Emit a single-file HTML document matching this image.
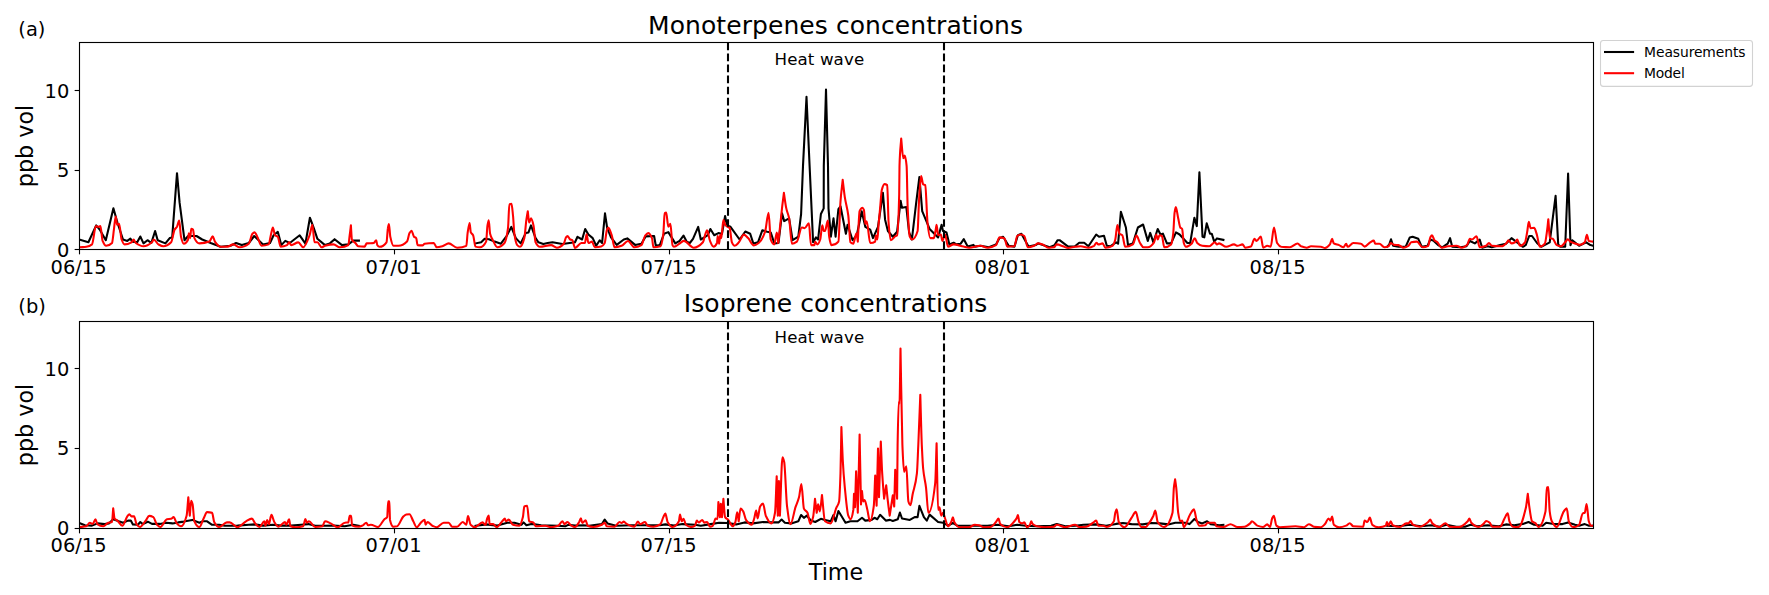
<!DOCTYPE html>
<html lang="en"><head><meta charset="utf-8"><title>Monoterpenes and Isoprene concentrations</title>
<style>
html,body{margin:0;padding:0;background:#fff;}
svg{display:block;}
text{font-family:"DejaVu Sans","Liberation Sans",sans-serif;fill:#000;}
</style></head><body>
<svg width="1769" height="595" viewBox="0 0 1769 595">
<rect width="1769" height="595" fill="#fff"/>
<defs>
<clipPath id="c1"><rect x="79.5" y="42.5" width="1514.0" height="207.0"/></clipPath>
<clipPath id="c2"><rect x="79.5" y="321.5" width="1514.0" height="207.0"/></clipPath>
</defs>
<polyline points="79.9,239.8 88.4,242.3 96.2,225.4 99.7,229.6 105.8,240.2 113.4,208.2 117.4,222.5 123.0,239.5 127.3,240.9 130.4,238.6 132.2,241.6 137.2,242.3 140.3,236.5 143.5,243.4 147.5,240.2 151.3,243.0 155.1,231.1 157.7,240.2 165.4,243.4 169.7,238.1 172.2,237.4 177.0,173.2 179.6,202.7 184.5,240.2 188.1,236.0 196.5,236.0 202.2,239.5 210.7,243.0 220.6,246.8 230.5,245.8 236.1,243.0 241.8,245.1 248.8,243.0 254.2,236.0 263.0,244.4 270.0,243.0 273.6,235.2 277.8,231.8 281.3,245.1 285.3,240.9 289.8,243.0 299.7,235.3 305.4,243.7 309.9,217.7 313.8,228.2 317.4,238.8 325.0,245.1 329.9,243.4 334.6,239.2 342.0,245.1 348.3,244.4 353.3,240.6 358.9,240.6" fill="none" stroke="#000" stroke-width="2.08" stroke-linejoin="round" stroke-linecap="square" clip-path="url(#c1)"/>
<polyline points="475.5,243.4 481.2,242.3 484.7,238.8 488.9,239.2 494.6,241.6 500.9,243.7 506.6,236.0 511.3,226.9 515.8,238.1 520.7,243.4 525.7,233.1 528.5,232.4 531.0,225.4 535.6,238.1 538.4,242.3 543.3,244.0 547.6,243.0 552.5,242.3 562.4,244.0 575.0,242.3 577.5,236.8 582.1,239.5 585.2,229.0 588.4,234.5 592.7,238.1 596.2,245.8 599.7,240.3 602.1,243.0 605.0,213.4 607.2,228.2 611.0,237.4 616.7,244.9 623.8,239.5 627.3,238.4 635.1,244.9 641.4,243.7 645.7,236.4 654.1,236.0 655.8,245.8 659.8,245.1 664.0,233.8 668.3,232.1 675.3,243.4 679.6,240.9 683.5,235.6 686.6,241.6 689.8,243.0 693.0,238.8 698.2,226.9 700.8,239.5 704.3,237.4 707.8,235.2 710.4,229.0 714.2,235.2 718.4,233.1 722.0,233.8 725.1,216.0 726.9,225.4 730.5,226.8 739.6,239.5 745.3,231.5 750.2,233.8 753.3,243.4 758.0,242.3 762.3,230.3 767.2,231.7 770.7,232.4 774.3,243.4 778.5,243.0 782.0,213.4 784.2,221.1 789.1,218.3 792.6,240.2 798.3,236.7 801.1,214.0 803.0,165.9 806.5,96.9 809.6,165.9 813.1,242.3 816.0,237.4 818.1,239.5 820.9,214.0 823.7,208.4 823.8,165.9 826.0,89.6 828.0,165.9 828.5,208.4 830.9,236.7 833.5,218.4 835.6,236.7 838.4,209.1 840.5,206.3 845.9,233.8 847.6,224.7 852.6,240.2 856.8,235.2 861.7,211.3 865.3,226.8 870.2,229.6 873.0,238.1 878.0,226.8 882.9,192.9 885.1,219.7 887.9,231.0 892.8,236.7 897.1,231.7 900.6,200.7 902.0,207.7 906.3,207.0 909.1,232.4 911.9,239.5 916.2,202.7 919.4,177.0 922.2,211.2 929.6,228.9 938.1,237.4 941.6,224.7 943.0,231.0 946.5,232.4 949.4,244.4 953.6,242.7 956.4,244.4 960.7,243.7 963.8,239.2 967.7,246.6 973.4,244.9 974.8,246.6 980.5,245.8 988.9,247.3 996.0,244.4 999.5,238.1 1003.1,236.7 1008.7,245.8 1014.4,246.6 1017.9,235.2 1021.4,233.8 1028.5,246.6 1035.6,245.1 1038.4,243.4 1049.7,247.3 1054.6,245.1 1057.5,240.2 1059.6,240.2 1068.1,246.6 1075.0,246.3 1079.2,242.7 1084.2,242.7 1088.4,246.3 1096.2,234.5 1099.0,236.7 1104.0,235.7 1106.8,245.8 1110.3,246.3 1116.0,242.3 1118.1,243.7 1120.9,211.7 1125.9,227.5 1128.0,245.1 1132.9,243.4 1137.9,227.5 1143.1,224.5 1147.8,240.9 1150.2,232.9 1153.4,242.3 1157.7,229.0 1160.5,234.5 1162.9,233.6 1166.9,243.4 1171.1,243.4 1176.0,232.4 1179.6,234.5 1187.4,243.0 1190.2,243.0 1194.4,217.7 1196.8,226.1 1199.4,172.2 1202.5,236.7 1204.3,237.4 1206.7,223.3 1210.0,233.8 1211.8,233.8 1214.2,241.6 1217.0,238.4 1223.4,239.9" fill="none" stroke="#000" stroke-width="2.08" stroke-linejoin="round" stroke-linecap="square" clip-path="url(#c1)"/>
<polyline points="1387.2,246.6 1389.3,244.4 1391.0,239.3 1393.1,245.8 1398.5,246.8 1405.6,246.8 1409.8,237.4 1412.6,236.7 1418.3,238.8 1421.8,246.8 1427.5,245.8 1430.3,239.5 1433.8,240.9 1438.1,245.1 1442.3,247.3 1447.7,243.7 1450.1,238.2 1452.2,246.8 1460.7,247.3 1466.3,246.3 1469.9,241.0 1474.8,243.4 1479.7,239.6 1482.2,247.7 1487.5,246.3 1491.8,247.3 1500.2,245.1 1505.9,243.7 1511.5,238.2 1515.1,240.9 1522.9,246.8 1525.7,245.1 1529.2,236.0 1532.0,236.0 1537.0,243.0 1541.2,246.8 1549.7,242.3 1555.6,195.8 1558.2,244.4 1560.3,246.8 1565.2,246.8 1568.1,173.6 1570.5,245.1 1572.3,240.3 1579.1,245.8 1586.2,242.3 1590.4,245.1 1593.0,245.8" fill="none" stroke="#000" stroke-width="2.08" stroke-linejoin="round" stroke-linecap="square" clip-path="url(#c1)"/>
<path d="M79.9,247.3C82.0,247.1 84.2,247.1 86.3,246.8C88.2,246.5 90.1,245.9 92.0,244.4C93.3,243.3 94.6,226.1 95.9,226.1C96.7,226.1 97.5,226.8 98.3,226.8C99.0,226.8 99.7,226.1 100.4,226.1C101.1,226.1 101.9,239.1 102.6,240.9C103.8,243.7 104.9,245.8 106.1,245.8C108.1,245.8 110.0,245.1 112.0,243.0C112.6,242.3 113.3,234.1 113.9,229.6C114.5,225.3 115.1,216.5 115.7,216.5C116.2,216.5 116.6,224.6 117.1,224.6C117.8,224.6 118.4,223.9 119.1,223.9C119.9,223.9 120.8,237.3 121.6,239.5C122.6,242.1 123.5,244.4 124.5,244.4C126.8,244.4 129.2,243.6 131.5,242.3C132.2,241.9 132.9,239.6 133.6,239.6C134.3,239.6 135.1,242.5 135.8,243.0C138.4,244.9 140.9,246.3 143.5,246.3C146.3,246.3 149.2,244.7 152.0,242.3C152.6,241.8 153.1,239.5 153.7,239.5C155.3,239.5 156.8,243.5 158.4,244.4C160.0,245.3 161.7,246.3 163.3,246.3C165.9,246.3 168.5,244.9 171.1,242.3C172.3,241.1 173.4,231.6 174.6,229.6C175.4,228.2 176.2,228.1 177.0,226.8C177.7,225.6 178.5,220.5 179.2,220.5C179.8,220.5 180.4,234.3 181.0,236.7C181.9,240.5 182.9,243.7 183.8,243.7C185.2,243.7 186.7,242.6 188.1,239.5C188.3,239.0 188.6,233.2 188.8,233.2C189.3,233.2 189.7,238.1 190.2,238.1C190.5,238.1 190.9,228.9 191.2,228.9C191.8,228.9 192.4,229.1 193.0,229.6C193.5,230.0 193.9,237.1 194.4,238.1C196.1,241.6 197.7,243.4 199.4,243.4C202.7,243.4 206.0,242.8 209.3,241.6C210.5,241.2 211.6,236.3 212.8,236.3C213.5,236.3 214.2,240.6 214.9,241.6C216.8,244.3 218.7,246.8 220.6,246.8C222.9,246.8 225.3,246.7 227.6,246.6C229.5,246.5 231.4,244.4 233.3,244.4C235.4,244.4 237.5,247.3 239.6,247.3C242.7,247.3 245.7,246.1 248.8,243.7C250.0,242.8 251.2,235.0 252.4,233.8C253.1,233.1 253.8,232.4 254.5,232.4C255.4,232.4 256.4,235.0 257.3,236.7C258.7,239.2 260.1,245.8 261.5,245.8C263.9,245.8 266.2,245.4 268.6,244.4C269.5,244.0 270.5,235.8 271.4,232.4C271.9,230.6 272.4,227.6 272.9,227.6C273.6,227.6 274.3,234.5 275.0,235.2C275.9,236.1 276.9,235.8 277.8,236.7C278.7,237.6 279.7,246.6 280.6,246.6C282.7,246.6 284.9,246.1 287.0,245.1C287.7,244.8 288.4,242.3 289.1,242.3C289.8,242.3 290.5,245.1 291.2,245.1C293.6,245.1 295.9,242.4 298.3,242.4C299.9,242.4 301.6,247.3 303.2,247.3C305.3,247.3 307.5,240.8 309.6,235.2C310.5,232.7 311.5,224.7 312.4,224.7C313.1,224.7 313.8,242.3 314.5,242.3C315.5,242.3 316.4,242.3 317.4,242.3C318.8,242.3 320.2,247.3 321.6,247.3C322.7,247.3 323.9,246.1 325.0,245.8C327.8,245.1 330.7,244.4 333.5,244.4C335.6,244.4 337.7,247.3 339.8,247.3C342.6,247.3 345.5,246.9 348.3,245.1C348.8,244.8 349.2,238.7 349.7,235.2C350.1,232.2 350.5,228.7 350.9,225.4C351.2,230.1 351.6,238.8 351.9,239.5C353.1,242.1 354.2,241.7 355.4,243.0C356.3,244.0 357.3,246.2 358.2,246.3C360.3,246.5 362.5,246.6 364.6,246.6C365.3,246.6 366.0,243.5 366.7,243.4C369.1,243.1 371.4,243.3 373.8,243.0C374.6,242.9 375.4,240.2 376.2,240.2C376.6,240.2 376.9,244.6 377.3,245.1C378.0,246.1 378.7,246.8 379.4,246.8C381.8,246.8 384.1,245.8 386.5,242.3C387.0,241.6 387.4,230.9 387.9,228.2C388.2,226.3 388.6,224.0 388.9,224.0C389.4,224.0 389.8,234.5 390.3,236.7C391.4,241.7 392.4,245.8 393.5,245.8C395.2,245.8 396.8,245.8 398.5,245.8C401.3,245.8 404.2,244.4 407.0,241.6C407.8,240.8 408.7,234.6 409.5,233.1C410.2,231.9 410.8,230.7 411.5,230.7C412.3,230.7 413.2,235.9 414.0,236.7C414.7,237.4 415.5,237.2 416.2,238.1C416.7,238.7 417.1,245.0 417.6,245.1C419.2,245.3 420.9,245.4 422.5,245.4C423.2,245.4 423.9,243.8 424.6,243.7C427.7,243.2 430.7,243.0 433.8,243.0C434.7,243.0 435.7,247.3 436.6,247.3C438.5,247.3 440.4,246.8 442.3,246.3C444.4,245.8 446.6,243.4 448.7,243.4C451.5,243.4 454.3,247.7 457.1,247.7C460.2,247.7 463.2,247.4 466.3,245.8C466.8,245.6 467.2,235.5 467.7,232.4C468.3,228.2 469.0,223.0 469.6,223.0C470.0,223.0 470.4,231.5 470.8,232.4C471.6,234.1 472.3,233.7 473.1,235.2C473.9,236.7 474.7,246.3 475.5,246.6C476.9,247.1 478.3,247.3 479.7,247.3C481.8,247.3 484.0,245.9 486.1,241.6C486.6,240.7 487.0,228.3 487.5,225.4C487.9,222.9 488.3,220.2 488.7,220.2C489.2,220.2 489.6,231.9 490.1,233.8C490.9,237.0 491.7,237.9 492.5,239.5C494.1,242.7 495.8,247.3 497.4,247.3C499.8,247.3 502.1,245.7 504.5,243.0C505.7,241.6 506.8,236.9 508.0,228.2C508.5,224.7 508.9,204.3 509.4,204.2C510.1,204.0 510.8,203.9 511.5,203.9C512.0,203.9 512.5,210.6 513.0,215.5C513.5,220.0 513.9,230.7 514.4,233.8C515.3,239.9 516.3,244.1 517.2,245.1C518.1,246.1 519.1,246.8 520.0,246.8C521.4,246.8 522.9,243.2 524.3,238.1C525.0,235.6 525.7,224.6 526.4,219.7C526.9,216.4 527.3,214.1 527.8,211.3C528.3,215.0 528.7,222.5 529.2,222.5C529.8,222.5 530.4,218.4 531.0,218.4C531.8,218.4 532.7,221.9 533.5,225.4C534.2,228.3 534.9,240.9 535.6,242.3C537.0,245.2 538.4,246.8 539.8,246.8C543.6,246.8 547.3,245.1 551.1,245.1C553.0,245.1 554.9,247.7 556.8,247.7C559.1,247.7 561.5,246.2 563.8,243.7C564.5,242.9 565.3,238.4 566.0,237.4C566.5,236.7 566.9,236.0 567.4,236.0C568.3,236.0 569.3,239.0 570.2,239.5C570.9,239.9 571.6,239.8 572.3,240.2C573.2,240.7 574.1,248.0 575.0,248.0C577.1,248.0 579.3,243.0 581.4,243.0C582.6,243.0 583.7,243.0 584.9,243.0C585.5,243.0 586.0,234.4 586.6,234.4C587.2,234.4 587.8,243.0 588.4,243.0C589.6,243.0 590.8,241.6 592.0,241.6C592.9,241.6 593.9,247.3 594.8,247.3C596.9,247.3 599.0,247.1 601.1,246.6C602.3,246.3 603.5,245.2 604.7,243.0C605.4,241.7 606.1,232.3 606.8,230.3C607.3,229.0 607.7,227.6 608.2,227.6C609.4,227.6 610.5,231.8 611.7,235.2C612.7,238.0 613.6,247.3 614.6,247.3C616.9,247.3 619.3,246.6 621.6,245.8C623.7,245.1 625.9,241.0 628.0,241.0C630.1,241.0 632.3,247.3 634.4,247.3C636.7,247.3 639.1,246.5 641.4,245.1C642.6,244.4 643.8,237.6 645.0,236.0C646.1,234.6 647.1,233.1 648.2,233.1C649.5,233.1 650.7,235.0 652.0,238.1C652.5,239.2 652.9,247.3 653.4,247.3C655.8,247.3 658.1,247.0 660.5,246.3C661.4,246.0 662.4,240.6 663.3,233.8C663.8,230.4 664.2,213.7 664.7,213.3C665.2,212.8 665.7,212.6 666.2,212.6C666.9,212.6 667.6,226.8 668.3,226.8C669.0,226.8 669.7,223.9 670.4,223.9C671.1,223.9 671.8,243.7 672.5,245.1C673.0,246.1 673.4,246.8 673.9,246.8C676.0,246.8 678.2,244.3 680.3,243.0C681.5,242.3 682.6,240.9 683.8,240.9C687.1,240.9 690.4,247.7 693.7,247.7C696.8,247.7 699.8,245.8 702.9,242.3C703.8,241.2 704.8,235.3 705.7,233.1C706.2,232.0 706.6,230.4 707.1,230.4C708.1,230.4 709.0,238.7 710.0,240.9C711.2,243.6 712.3,246.6 713.5,246.6C714.7,246.6 715.8,245.7 717.0,243.0C717.2,242.5 717.5,236.0 717.7,236.0C718.2,236.0 718.6,243.7 719.1,243.7C719.5,243.7 719.9,234.6 720.3,234.6C720.6,234.6 721.0,238.1 721.3,238.1C722.0,238.1 722.7,219.8 723.4,219.8C724.1,219.8 724.8,224.6 725.5,225.4C726.9,227.0 728.3,226.4 729.7,228.2C730.4,229.2 731.2,240.7 731.9,242.3C732.8,244.3 733.8,245.8 734.7,245.8C736.1,245.8 737.5,243.8 738.9,242.3C740.6,240.5 742.2,234.6 743.9,234.6C745.3,234.6 746.7,236.7 748.1,238.1C750.0,240.0 751.9,245.4 753.8,245.4C755.4,245.4 757.1,244.2 758.7,243.0C760.8,241.4 763.0,237.7 765.1,231.7C766.3,228.4 767.4,212.7 768.6,212.7C769.3,212.7 770.0,237.6 770.7,239.5C771.9,242.7 773.1,244.4 774.3,244.4C775.1,244.4 776.0,232.5 776.8,232.5C777.3,232.5 777.7,239.5 778.2,243.0C778.8,238.1 779.3,233.3 779.9,228.2C780.6,221.9 781.3,214.5 782.0,208.4C782.6,202.9 783.3,198.1 783.9,192.9C784.7,198.1 785.5,204.7 786.3,208.4C787.2,212.7 788.2,213.6 789.1,218.3C790.0,223.0 791.0,243.7 791.9,243.7C793.6,243.7 795.2,242.8 796.9,241.6C798.5,240.4 800.2,227.5 801.8,227.5C802.7,227.5 803.7,228.2 804.6,228.2C806.0,228.2 807.5,223.3 808.9,223.3C809.6,223.3 810.3,245.1 811.0,245.1C812.2,245.1 813.3,245.1 814.5,245.1C814.7,245.1 815.0,241.7 815.2,241.7C815.9,241.7 816.7,244.4 817.4,244.4C818.3,244.4 819.3,242.2 820.2,239.5C820.9,237.5 821.6,225.4 822.3,225.4C822.8,225.4 823.2,231.0 823.7,231.0C824.1,231.0 824.6,231.0 825.0,231.0C825.9,231.0 826.9,220.5 827.8,220.5C828.3,220.5 828.7,233.9 829.2,236.7C829.9,241.1 830.7,245.1 831.4,245.1C833.7,245.1 836.1,244.3 838.4,241.6C839.1,240.8 839.8,210.4 840.5,201.3C841.2,191.8 842.0,187.0 842.7,179.8C843.4,185.6 844.1,192.5 844.8,197.1C846.0,204.7 847.1,206.5 848.3,215.5C849.0,220.9 849.7,241.6 850.4,242.3C851.4,243.2 852.3,243.7 853.3,243.7C854.3,243.7 855.4,233.2 856.4,233.2C856.9,233.2 857.3,238.8 857.8,241.6C858.4,231.5 859.0,212.6 859.6,211.2C860.6,208.9 861.5,207.7 862.5,207.7C863.0,207.7 863.4,208.6 863.9,209.8C864.4,211.0 864.8,223.9 865.3,223.9C865.8,223.9 866.2,221.2 866.7,221.2C867.9,221.2 869.0,243.0 870.2,243.0C871.9,243.0 873.5,242.8 875.2,241.6C875.4,241.4 875.7,235.3 875.9,235.3C876.4,235.3 876.8,239.5 877.3,239.5C877.8,239.5 878.2,228.4 878.7,223.2C879.2,218.0 879.6,213.4 880.1,208.4C880.7,202.3 881.2,192.2 881.8,190.0C882.7,186.6 883.5,184.1 884.4,184.1C885.3,184.1 886.3,184.4 887.2,185.1C887.7,185.5 888.1,216.3 888.6,222.5C889.3,231.8 890.0,240.2 890.7,240.2C892.4,240.2 894.0,237.1 895.7,236.0C896.2,235.7 896.6,235.7 897.1,235.2C897.8,234.5 898.5,221.4 899.2,194.3C899.3,190.4 899.4,169.2 899.5,165.9C900.1,147.3 900.6,147.7 901.2,138.6C901.9,145.2 902.6,158.3 903.3,158.3C903.8,158.3 904.2,155.5 904.7,155.5C905.3,155.5 906.0,159.4 906.6,165.9C907.0,169.7 907.3,200.7 907.7,208.4C908.4,223.1 909.1,235.0 909.8,236.7C910.5,238.4 911.2,239.5 911.9,239.5C913.8,239.5 915.7,237.4 917.6,231.0C918.1,229.4 918.5,208.6 919.0,201.3C919.7,190.3 920.4,176.0 921.1,176.0C921.8,176.0 922.5,184.0 923.2,184.4C923.9,184.8 924.6,184.6 925.3,185.1C926.0,185.6 926.8,216.2 927.5,222.5C928.4,230.5 929.4,238.1 930.3,238.1C931.5,238.1 932.6,238.1 933.8,238.1C934.4,238.1 934.9,233.8 935.5,231.0C935.9,229.2 936.2,224.7 936.6,224.7C937.1,224.7 937.6,235.2 938.1,235.2C939.0,235.2 940.0,234.5 940.9,234.5C941.4,234.5 941.8,240.9 942.3,240.9C943.2,240.9 944.2,234.6 945.1,234.6C946.1,234.6 947.0,246.6 948.0,246.6C949.9,246.6 951.7,244.4 953.6,244.4C956.9,244.4 960.2,245.9 963.5,246.6C965.4,247.0 967.2,247.7 969.1,247.7C972.9,247.7 976.7,245.8 980.5,245.8C982.8,245.8 985.2,247.7 987.5,247.7C990.3,247.7 993.2,246.8 996.0,245.1C997.2,244.4 998.3,237.4 999.5,237.4C1001.2,237.4 1002.8,237.7 1004.5,238.4C1005.4,238.8 1006.4,246.6 1007.3,246.6C1009.7,246.6 1012.0,246.5 1014.4,246.3C1015.3,246.2 1016.3,236.7 1017.2,236.0C1018.4,235.1 1019.5,234.5 1020.7,234.5C1021.9,234.5 1023.1,235.1 1024.3,236.0C1025.5,236.9 1026.6,247.3 1027.8,247.3C1029.9,247.3 1032.1,246.6 1034.2,245.8C1035.4,245.4 1036.5,243.4 1037.7,243.4C1039.3,243.4 1041.0,243.9 1042.6,244.4C1044.5,245.0 1046.4,247.7 1048.3,247.7C1050.2,247.7 1052.0,247.6 1053.9,247.3C1054.9,247.2 1055.8,244.4 1056.8,244.4C1059.1,244.4 1061.5,245.9 1063.8,246.6C1065.2,247.1 1066.7,248.0 1068.1,248.0C1070.4,248.0 1072.7,247.1 1075.0,246.8C1076.9,246.6 1078.8,246.3 1080.7,246.3C1083.3,246.3 1085.8,247.7 1088.4,247.7C1090.3,247.7 1092.2,246.9 1094.1,245.8C1094.9,245.3 1095.7,242.7 1096.5,242.7C1097.1,242.7 1097.7,244.4 1098.3,244.4C1099.7,244.4 1101.2,243.4 1102.6,243.4C1103.5,243.4 1104.5,247.7 1105.4,247.7C1107.8,247.7 1110.1,247.1 1112.5,245.8C1113.4,245.3 1114.4,242.7 1115.3,239.5C1116.0,237.1 1116.7,225.0 1117.4,225.0C1118.1,225.0 1118.8,233.2 1119.5,233.8C1120.4,234.7 1121.4,234.4 1122.3,235.2C1123.3,236.1 1124.2,246.8 1125.2,246.8C1127.8,246.8 1130.3,246.0 1132.9,244.4C1134.1,243.7 1135.3,235.6 1136.5,235.6C1137.7,235.6 1138.8,241.2 1140.0,243.0C1141.2,244.8 1142.3,247.3 1143.5,247.3C1144.9,247.3 1146.4,247.3 1147.8,247.3C1149.9,247.3 1152.0,245.3 1154.1,242.3C1154.8,241.2 1155.6,234.6 1156.3,234.6C1156.8,234.6 1157.2,239.5 1157.7,239.5C1158.3,239.5 1158.9,235.2 1159.5,235.2C1160.3,235.2 1161.1,235.5 1161.9,236.0C1162.7,236.5 1163.5,247.3 1164.3,247.3C1166.6,247.3 1168.8,246.5 1171.1,244.4C1171.8,243.8 1172.5,239.3 1173.2,233.8C1173.7,230.1 1174.1,215.8 1174.6,212.6C1175.0,209.8 1175.4,207.1 1175.8,207.1C1176.6,207.1 1177.4,214.7 1178.2,218.3C1178.9,221.5 1179.6,226.6 1180.3,227.5C1180.9,228.3 1181.5,228.0 1182.1,228.9C1182.7,229.7 1183.2,241.3 1183.8,243.0C1184.5,245.1 1185.2,246.8 1185.9,246.8C1187.8,246.8 1189.7,245.4 1191.6,243.7C1192.7,242.8 1193.7,238.2 1194.8,238.2C1195.6,238.2 1196.4,242.3 1197.2,243.0C1198.9,244.6 1200.5,245.6 1202.2,245.8C1204.6,246.1 1206.9,246.3 1209.3,246.3C1211.2,246.3 1213.0,242.3 1214.9,242.3C1215.6,242.3 1216.3,244.4 1217.0,244.4C1217.7,244.4 1218.4,243.4 1219.1,243.4C1221.5,243.4 1223.8,246.8 1226.2,246.8C1228.8,246.8 1231.4,244.4 1234.0,244.4C1235.2,244.4 1236.3,245.8 1237.5,245.8C1239.2,245.8 1240.8,244.4 1242.5,244.4C1243.4,244.4 1244.4,247.7 1245.3,247.7C1247.2,247.7 1249.0,247.3 1250.9,246.6C1252.1,246.1 1253.3,238.8 1254.5,238.8C1255.2,238.8 1255.9,240.9 1256.6,240.9C1258.0,240.9 1259.4,236.5 1260.8,236.5C1261.6,236.5 1262.4,247.7 1263.2,247.7C1264.5,247.7 1265.9,245.8 1267.2,245.8C1268.4,245.8 1269.5,246.6 1270.7,246.6C1271.8,246.6 1272.9,227.6 1274.0,227.6C1275.0,227.6 1276.1,241.4 1277.1,243.0C1278.5,245.2 1279.9,246.6 1281.3,246.8C1284.1,247.1 1287.0,247.3 1289.8,247.3C1292.4,247.3 1295.0,243.5 1297.6,243.5C1298.8,243.5 1299.9,245.8 1301.1,246.3C1303.0,247.0 1304.9,247.7 1306.8,247.7C1308.2,247.7 1309.6,246.3 1311.0,246.3C1314.3,246.3 1317.6,246.5 1320.9,246.8C1322.3,246.9 1323.6,248.0 1325.0,248.0C1326.6,248.0 1328.3,246.4 1329.9,244.4C1330.6,243.5 1331.4,238.9 1332.1,238.9C1332.7,238.9 1333.2,243.0 1333.8,243.4C1335.6,244.6 1337.3,244.4 1339.1,245.1C1340.5,245.7 1342.0,247.3 1343.4,247.3C1344.3,247.3 1345.3,243.8 1346.2,243.8C1346.7,243.8 1347.1,246.8 1347.6,246.8C1349.5,246.8 1351.4,243.0 1353.3,243.0C1355.9,243.0 1358.4,243.2 1361.0,243.7C1362.2,243.9 1363.4,246.6 1364.6,246.6C1366.5,246.6 1368.3,243.4 1370.2,242.3C1371.4,241.6 1372.6,240.6 1373.8,240.6C1374.3,240.6 1374.7,243.7 1375.2,243.7C1376.6,243.7 1378.0,243.7 1379.4,243.7C1381.1,243.7 1382.7,247.3 1384.4,247.3C1385.8,247.3 1387.2,246.9 1388.6,246.3C1389.3,246.0 1390.0,243.0 1390.7,243.0C1391.9,243.0 1393.0,244.8 1394.2,244.9C1395.6,245.0 1397.1,245.0 1398.5,245.1C1400.1,245.2 1401.8,247.7 1403.4,247.7C1405.1,247.7 1406.7,246.8 1408.4,245.8C1409.3,245.2 1410.3,242.5 1411.2,242.3C1413.1,241.8 1415.0,241.6 1416.9,241.6C1418.8,241.6 1420.6,247.3 1422.5,247.3C1424.4,247.3 1426.3,246.9 1428.2,245.8C1428.9,245.4 1429.6,238.7 1430.3,237.4C1430.9,236.3 1431.4,235.2 1432.0,235.2C1432.8,235.2 1433.7,239.3 1434.5,240.2C1435.5,241.2 1436.4,241.4 1437.4,242.3C1438.8,243.6 1440.2,247.7 1441.6,247.7C1443.7,247.7 1445.9,246.5 1448.0,246.3C1450.8,246.0 1453.6,245.8 1456.4,245.8C1458.3,245.8 1460.2,247.7 1462.1,247.7C1463.7,247.7 1465.4,246.6 1467.0,245.1C1468.0,244.2 1468.9,238.8 1469.9,238.8C1470.6,238.8 1471.3,239.5 1472.0,239.5C1473.5,239.5 1475.0,236.3 1476.5,236.3C1477.6,236.3 1478.6,247.3 1479.7,247.3C1481.8,247.3 1484.0,246.7 1486.1,245.8C1487.0,245.4 1488.0,243.0 1488.9,243.0C1489.9,243.0 1490.8,245.7 1491.8,245.8C1495.1,246.2 1498.4,246.3 1501.7,246.3C1503.3,246.3 1505.0,244.6 1506.6,243.0C1507.2,242.4 1507.8,240.3 1508.4,240.3C1509.4,240.3 1510.5,243.4 1511.5,243.4C1512.7,243.4 1513.9,242.9 1515.1,242.3C1515.8,241.9 1516.5,239.6 1517.2,239.6C1518.1,239.6 1519.1,245.8 1520.0,245.8C1521.7,245.8 1523.3,244.6 1525.0,242.3C1525.7,241.4 1526.4,236.2 1527.1,232.4C1527.7,229.4 1528.2,221.9 1528.8,221.9C1529.4,221.9 1530.0,228.2 1530.6,228.2C1531.8,228.2 1533.0,227.9 1534.2,227.9C1535.1,227.9 1536.1,232.2 1537.0,235.2C1537.9,238.2 1538.9,246.6 1539.8,246.6C1541.5,246.6 1543.1,245.6 1544.8,243.7C1545.6,242.8 1546.4,235.5 1547.2,229.6C1547.6,226.9 1547.9,222.8 1548.3,219.4C1548.9,225.6 1549.4,237.8 1550.0,238.1C1550.9,238.6 1551.9,238.4 1552.8,238.8C1554.1,239.4 1555.5,244.5 1556.8,245.1C1558.2,245.8 1559.6,246.3 1561.0,246.3C1562.4,246.3 1563.8,243.8 1565.2,242.3C1566.1,241.4 1566.9,239.2 1567.8,239.2C1568.6,239.2 1569.4,241.1 1570.2,241.6C1571.8,242.5 1573.4,242.9 1575.0,243.4C1576.6,243.9 1578.2,244.9 1579.8,244.9C1581.5,244.9 1583.1,244.0 1584.8,242.3C1585.5,241.6 1586.2,234.9 1586.9,234.9C1587.5,234.9 1588.2,240.7 1588.8,240.9C1590.2,241.4 1591.6,241.4 1593.0,241.6" fill="none" stroke="#f00" stroke-width="2.08" stroke-linejoin="round" stroke-linecap="square" clip-path="url(#c1)"/>
<line x1="728.0" y1="42.5" x2="728.0" y2="249.5" stroke="#000" stroke-width="2.08" stroke-dasharray="7.71 3.33"/>
<line x1="944.0" y1="42.5" x2="944.0" y2="249.5" stroke="#000" stroke-width="2.08" stroke-dasharray="7.71 3.33"/>
<rect x="79.5" y="42.5" width="1514.0" height="207.0" fill="none" stroke="#000" stroke-width="1.11"/>
<line x1="79.5" y1="249.5" x2="79.5" y2="254.36" stroke="#000" stroke-width="1.11"/>
<text x="78.6" y="273.8" font-size="19.44" text-anchor="middle">06/15</text>
<line x1="394.5" y1="249.5" x2="394.5" y2="254.36" stroke="#000" stroke-width="1.11"/>
<text x="393.6" y="273.8" font-size="19.44" text-anchor="middle">07/01</text>
<line x1="669.5" y1="249.5" x2="669.5" y2="254.36" stroke="#000" stroke-width="1.11"/>
<text x="668.6" y="273.8" font-size="19.44" text-anchor="middle">07/15</text>
<line x1="1003.5" y1="249.5" x2="1003.5" y2="254.36" stroke="#000" stroke-width="1.11"/>
<text x="1002.6" y="273.8" font-size="19.44" text-anchor="middle">08/01</text>
<line x1="1278.5" y1="249.5" x2="1278.5" y2="254.36" stroke="#000" stroke-width="1.11"/>
<text x="1277.6" y="273.8" font-size="19.44" text-anchor="middle">08/15</text>
<line x1="74.64" y1="249.5" x2="79.5" y2="249.5" stroke="#000" stroke-width="1.11"/>
<text x="69.34" y="257.0" font-size="19.44" text-anchor="end">0</text>
<line x1="74.64" y1="170.5" x2="79.5" y2="170.5" stroke="#000" stroke-width="1.11"/>
<text x="69.34" y="177.4" font-size="19.44" text-anchor="end">5</text>
<line x1="74.64" y1="90.5" x2="79.5" y2="90.5" stroke="#000" stroke-width="1.11"/>
<text x="69.34" y="97.8" font-size="19.44" text-anchor="end">10</text>
<text x="835.6" y="34.0" font-size="25" letter-spacing="0.075" text-anchor="middle">Monoterpenes concentrations</text>
<text transform="translate(33.2,146.0) rotate(-90)" font-size="22.22" text-anchor="middle">ppb vol</text>
<text x="774.6" y="64.9" font-size="16.67" letter-spacing="0.1">Heat wave</text>
<text x="18.3" y="35.9" font-size="19.44">(a)</text>
<polyline points="79.9,523.2 84.9,525.3 92.0,525.6 97.6,523.4 104.7,524.1 108.9,523.4 113.2,519.2 118.8,521.3 123.0,522.7 128.0,520.6 130.8,520.6 132.9,524.4 137.9,524.8 140.3,522.0 142.8,524.1 147.8,521.7 152.0,523.9 159.8,523.9 166.2,522.7 172.5,523.4 178.2,522.4 183.8,521.6 192.3,519.9 199.4,522.7 202.9,521.3 207.1,521.3 212.1,524.8 219.1,524.8 224.8,525.8 237.5,525.6 248.8,524.8 254.5,524.4 263.0,525.6 272.9,524.8 281.3,525.6 291.2,525.6 301.1,524.8 308.2,524.1 315.2,525.8 325.0,525.8 333.5,525.6 344.8,526.3 353.3,524.8 358.9,525.8" fill="none" stroke="#000" stroke-width="2.08" stroke-linejoin="round" stroke-linecap="square" clip-path="url(#c2)"/>
<polyline points="475.5,525.8 486.1,524.4 497.4,525.6 507.3,522.7 514.4,522.7 521.4,524.8 523.6,522.4 526.4,525.3 531.3,523.9 541.2,525.3 558.2,525.8 565.2,526.3 568.1,524.8 575.0,525.6 583.5,525.3 589.1,525.8 601.9,524.1 604.7,519.6 607.5,523.4 616.0,525.8 631.5,525.3 645.7,525.3 659.8,525.3 665.4,524.4 673.9,525.6 682.4,524.1 695.1,524.8 700.8,525.8 710.7,524.1 719.1,522.7 727.6,523.0 736.1,524.4 744.6,522.4 753.1,523.4 763.0,522.0 771.4,522.4 778.5,522.4 781.6,519.6 784.9,522.7 791.2,523.4 798.3,521.3 801.1,515.0 803.9,517.8 806.8,515.7 811.0,520.6 815.2,522.0 820.9,518.8 825.0,519.9 830.7,521.3 833.5,515.0 835.6,521.3 838.4,511.1 841.3,515.7 845.5,522.7 850.4,521.3 857.5,521.3 862.0,517.8 865.3,520.6 871.6,519.9 874.5,517.8 877.3,519.2 880.1,514.8 885.8,520.6 890.0,519.9 892.8,521.0 897.8,519.2 899.9,512.5 902.0,518.5 909.8,519.9 914.7,517.1 917.6,517.1 919.4,505.9 923.9,517.1 926.8,520.6 929.6,514.6 938.1,522.0 943.0,522.7 948.0,525.6 952.9,523.0 957.8,525.8 973.4,525.8 987.5,525.8 997.4,524.8 1008.7,526.3 1017.2,524.8 1025.7,525.8 1037.0,526.3 1051.1,525.8 1056.8,524.1 1065.2,526.3 1075.0,525.8 1083.5,524.8 1096.2,524.4 1106.1,525.8 1116.0,523.9 1123.0,523.0 1131.5,524.1 1142.8,524.4 1151.3,523.0 1159.8,523.4 1168.3,524.4 1175.3,522.7 1185.2,522.7 1189.5,524.1 1194.4,519.0 1198.0,522.0 1202.2,523.4 1207.1,521.3 1210.7,524.1 1219.1,525.3 1223.4,524.8" fill="none" stroke="#000" stroke-width="2.08" stroke-linejoin="round" stroke-linecap="square" clip-path="url(#c2)"/>
<polyline points="1387.2,525.8 1398.5,526.3 1409.8,524.8 1421.1,526.3 1431.0,525.3 1439.5,526.7 1446.5,524.8 1456.4,526.7 1464.9,526.7 1470.6,524.8 1477.6,526.3 1487.5,525.3 1498.8,526.3 1505.9,524.4 1514.4,525.3 1522.9,523.9 1528.5,522.0 1534.2,524.8 1542.6,525.8 1546.2,522.7 1553.9,524.1 1562.4,524.1 1568.1,522.4 1575.0,524.8 1579.1,525.8 1584.8,524.1 1589.0,525.8 1593.0,525.8" fill="none" stroke="#000" stroke-width="2.08" stroke-linejoin="round" stroke-linecap="square" clip-path="url(#c2)"/>
<path d="M79.9,527.0C82.0,526.8 84.2,526.8 86.3,526.3C87.5,526.0 88.6,522.7 89.8,522.7C90.8,522.7 91.7,523.9 92.7,523.9C93.6,523.9 94.6,519.3 95.5,519.3C96.1,519.3 96.7,523.7 97.3,524.1C99.3,525.6 101.3,526.3 103.3,526.3C104.9,526.3 106.6,523.2 108.2,522.7C109.5,522.3 110.7,522.6 112.0,522.0C112.4,521.8 112.8,512.9 113.2,508.3C113.7,511.7 114.1,517.8 114.6,518.5C115.5,519.9 116.5,519.8 117.4,520.6C119.0,522.0 120.7,525.8 122.3,525.8C124.0,525.8 125.6,518.6 127.3,516.4C128.0,515.5 128.7,514.2 129.4,514.2C130.1,514.2 130.8,516.4 131.5,516.4C132.4,516.4 133.2,516.4 134.1,516.4C134.9,516.4 135.7,523.0 136.5,524.1C137.7,525.7 138.8,527.0 140.0,527.0C141.9,527.0 143.8,522.9 145.7,520.6C146.9,519.2 148.0,515.9 149.2,515.9C150.6,515.9 152.0,516.4 153.4,517.1C154.6,517.7 155.8,523.6 157.0,524.8C158.2,525.9 159.3,527.0 160.5,527.0C162.6,527.0 164.8,519.6 166.9,519.2C168.3,519.0 169.7,519.0 171.1,518.8C171.9,518.7 172.8,517.1 173.6,517.1C174.7,517.1 175.7,522.3 176.8,523.4C178.2,524.9 179.6,526.3 181.0,526.3C182.9,526.3 184.7,522.6 186.6,515.7C187.2,513.6 187.7,503.5 188.3,497.4C188.8,503.5 189.3,509.6 189.8,515.7C190.3,510.8 190.7,500.9 191.2,500.9C191.7,500.9 192.1,502.6 192.6,504.4C193.2,506.7 193.8,519.9 194.4,521.3C196.1,525.2 197.7,527.0 199.4,527.0C200.8,527.0 202.2,521.2 203.6,518.5C204.8,516.3 205.9,512.1 207.1,512.1C208.8,512.1 210.4,512.3 212.1,512.8C212.8,513.0 213.5,520.7 214.2,522.0C215.8,524.9 217.5,527.0 219.1,527.0C221.7,527.0 224.3,522.4 226.9,522.4C227.8,522.4 228.8,522.4 229.7,522.4C232.3,522.4 234.9,527.2 237.5,527.2C240.3,527.2 243.2,522.8 246.0,521.3C248.0,520.2 249.9,518.6 251.9,518.6C253.0,518.6 254.1,522.2 255.2,523.4C256.6,524.9 258.0,527.0 259.4,527.0C261.1,527.0 262.7,521.4 264.4,521.4C264.8,521.4 265.1,525.6 265.5,525.6C266.1,525.6 266.6,520.0 267.2,520.0C267.8,520.0 268.3,524.1 268.9,524.1C269.7,524.1 270.6,514.8 271.4,514.8C272.4,514.8 273.3,520.5 274.3,522.0C275.7,524.2 277.1,526.7 278.5,526.7C280.6,526.7 282.8,522.1 284.9,522.1C285.4,522.1 285.8,524.8 286.3,524.8C287.2,524.8 288.2,519.3 289.1,519.3C289.6,519.3 290.0,526.1 290.5,526.3C292.2,527.0 293.8,527.2 295.5,527.2C298.1,527.2 300.6,527.0 303.2,526.3C303.9,526.1 304.7,519.0 305.4,519.0C305.9,519.0 306.3,522.7 306.8,522.7C307.5,522.7 308.2,521.3 308.9,521.3C311.0,521.3 313.1,527.0 315.2,527.0C317.6,527.0 319.9,526.8 322.3,526.3C323.2,526.1 324.1,521.3 325.0,521.3C326.9,521.3 328.8,522.6 330.7,523.4C333.0,524.4 335.4,527.2 337.7,527.2C340.1,527.2 342.4,523.0 344.8,522.7C346.0,522.5 347.1,522.6 348.3,522.4C348.8,522.3 349.2,515.7 349.7,515.7C350.2,515.7 350.6,515.8 351.1,515.9C351.4,516.0 351.8,525.5 352.1,525.6C354.4,526.5 356.6,526.7 358.9,526.7C360.1,526.7 361.3,526.1 362.5,525.6C363.8,525.1 365.0,522.8 366.3,522.8C366.9,522.8 367.5,525.3 368.1,525.3C369.0,525.3 370.0,524.8 370.9,524.8C373.3,524.8 375.6,527.0 378.0,527.0C380.1,527.0 382.3,521.1 384.4,519.2C385.3,518.4 386.3,518.7 387.2,517.1C387.5,516.5 387.9,501.2 388.2,501.2C388.6,501.2 388.9,501.3 389.3,501.5C389.5,501.6 389.8,518.9 390.0,519.9C391.2,525.1 392.3,526.7 393.5,526.7C394.7,526.7 395.9,526.5 397.1,526.3C399.2,525.9 401.3,518.2 403.4,516.4C404.4,515.5 405.3,514.7 406.3,514.5C407.4,514.3 408.4,514.2 409.5,514.2C410.8,514.2 412.0,519.0 413.3,521.3C414.4,523.3 415.5,527.2 416.6,527.2C418.1,527.2 419.6,523.7 421.1,522.4C422.3,521.4 423.4,519.9 424.6,519.9C424.9,519.9 425.3,524.8 425.6,524.8C426.2,524.8 426.9,522.0 427.5,522.0C429.1,522.0 430.8,525.0 432.4,525.8C433.8,526.4 435.2,527.2 436.6,527.2C439.0,527.2 441.3,522.7 443.7,522.7C445.4,522.7 447.0,522.7 448.7,522.7C449.9,522.7 451.0,526.7 452.2,526.7C453.8,526.7 455.5,526.7 457.1,526.7C459.0,526.7 460.9,522.0 462.8,522.0C464.0,522.0 465.1,524.8 466.3,524.8C466.9,524.8 467.4,516.0 468.0,516.0C468.9,516.0 469.7,523.9 470.6,524.8C472.0,526.2 473.4,527.2 474.8,527.2C477.4,527.2 480.0,522.4 482.6,522.4C483.5,522.4 484.5,524.8 485.4,524.8C486.0,524.8 486.6,520.0 487.2,518.5C487.7,517.2 488.2,515.5 488.7,515.5C489.0,515.5 489.3,524.1 489.6,524.1C490.8,524.1 492.0,524.1 493.2,524.1C494.4,524.1 495.5,527.0 496.7,527.0C498.4,527.0 500.0,523.7 501.7,522.0C502.7,520.9 503.8,518.6 504.8,518.6C505.2,518.6 505.5,521.3 505.9,521.3C506.8,521.3 507.8,519.6 508.7,519.6C510.1,519.6 511.6,524.4 513.0,524.8C515.1,525.4 517.2,525.8 519.3,525.8C520.5,525.8 521.7,521.9 522.9,517.1C523.4,515.3 523.8,506.8 524.3,506.5C525.2,506.0 526.2,505.8 527.1,505.8C527.8,505.8 528.5,520.8 529.2,521.3C530.6,522.3 532.1,521.8 533.5,522.7C534.2,523.1 534.9,526.3 535.6,526.3C538.9,526.3 542.2,525.8 545.5,525.8C547.4,525.8 549.2,527.2 551.1,527.2C553.5,527.2 555.8,526.6 558.2,525.8C559.6,525.3 561.0,521.3 562.4,521.3C563.1,521.3 563.8,524.1 564.5,524.1C565.5,524.1 566.4,522.0 567.4,522.0C568.6,522.0 569.7,524.6 570.9,525.3C572.3,526.1 573.6,527.0 575.0,527.0C576.4,527.0 577.8,524.3 579.2,522.0C579.8,521.1 580.3,518.2 580.9,518.2C581.4,518.2 581.8,523.0 582.3,523.0C583.4,523.0 584.5,520.4 585.6,520.4C586.3,520.4 587.0,525.5 587.7,525.8C589.6,526.7 591.5,527.0 593.4,527.0C596.2,527.0 599.1,526.0 601.9,524.8C602.8,524.4 603.8,522.7 604.7,522.7C605.4,522.7 606.1,526.2 606.8,526.3C609.4,526.6 612.0,526.7 614.6,526.7C616.2,526.7 617.9,522.0 619.5,522.0C620.2,522.0 620.9,523.0 621.6,523.0C622.3,523.0 623.1,521.6 623.8,521.6C624.7,521.6 625.7,523.4 626.6,523.9C629.2,525.3 631.8,526.7 634.4,526.7C635.6,526.7 636.7,521.6 637.9,521.6C638.6,521.6 639.3,524.1 640.0,524.1C641.7,524.1 643.3,522.0 645.0,522.0C645.9,522.0 646.9,525.5 647.8,525.8C649.7,526.4 651.5,526.7 653.4,526.7C655.8,526.7 658.1,525.8 660.5,524.1C661.4,523.4 662.4,518.9 663.3,517.1C664.0,515.7 664.7,513.6 665.4,513.6C666.1,513.6 666.9,520.7 667.6,522.0C669.2,524.8 670.9,527.0 672.5,527.0C674.6,527.0 676.8,525.3 678.9,521.3C679.3,520.6 679.6,514.6 680.0,514.6C680.6,514.6 681.1,521.3 681.7,521.3C682.3,521.3 682.9,518.8 683.5,518.8C684.3,518.8 685.1,524.1 685.9,524.8C687.6,526.2 689.2,527.0 690.9,527.0C692.3,527.0 693.7,526.5 695.1,525.6C695.7,525.2 696.2,520.6 696.8,520.6C697.4,520.6 698.1,522.4 698.7,522.4C699.9,522.4 701.0,520.0 702.2,520.0C702.9,520.0 703.6,522.7 704.3,522.7C705.2,522.7 706.2,522.0 707.1,522.0C708.1,522.0 709.0,526.7 710.0,526.7C710.9,526.7 711.9,526.3 712.8,525.8C713.7,525.3 714.7,518.5 715.6,518.5C716.2,518.5 716.9,519.2 717.5,519.2C717.8,519.2 718.1,507.7 718.4,502.0C718.9,507.0 719.4,512.1 719.9,517.1C720.2,512.6 720.5,508.2 720.8,503.7C721.2,508.2 721.6,512.6 722.0,517.1C722.5,511.0 722.9,504.9 723.4,498.8C724.0,504.9 724.5,516.1 725.1,517.1C726.2,519.0 727.2,518.7 728.3,519.9C729.7,521.5 731.2,526.3 732.6,526.3C733.5,526.3 734.5,524.3 735.4,522.0C736.0,520.5 736.6,512.2 737.2,512.2C737.7,512.2 738.2,518.3 738.7,521.3C739.3,517.1 740.0,508.6 740.6,508.6C741.5,508.6 742.3,510.0 743.2,511.4C744.1,512.9 745.1,518.6 746.0,519.9C747.9,522.6 749.8,524.8 751.7,524.8C752.5,524.8 753.4,521.1 754.2,518.5C754.9,516.4 755.5,510.5 756.2,510.5C756.7,510.5 757.1,518.5 757.6,518.5C758.4,518.5 759.3,507.9 760.1,506.5C761.1,504.9 762.0,503.6 763.0,503.6C763.9,503.6 764.9,513.6 765.8,515.7C767.7,519.8 769.5,523.4 771.4,523.4C772.6,523.4 773.8,519.6 775.0,512.8C775.6,509.6 776.1,488.4 776.7,476.2C777.1,489.4 777.4,502.5 777.8,515.7C778.2,504.2 778.5,492.6 778.9,481.1C779.2,492.6 779.6,504.2 779.9,515.7C780.8,496.3 781.6,457.4 782.5,457.4C783.1,457.4 783.6,459.5 784.2,462.0C785.1,466.1 786.1,498.3 787.0,505.8C788.2,515.1 789.3,524.1 790.5,524.1C792.2,524.1 793.8,512.3 795.5,507.2C796.7,503.6 797.8,501.8 799.0,497.3C799.8,494.2 800.6,484.0 801.4,484.0C802.2,484.0 803.1,506.8 803.9,508.6C805.1,511.2 806.3,510.6 807.5,512.8C808.4,514.5 809.4,523.9 810.3,523.9C811.2,523.9 812.2,520.9 813.1,517.1C813.7,514.5 814.4,504.9 815.0,498.8C815.6,503.5 816.1,508.1 816.7,512.8C817.2,510.0 817.6,504.4 818.1,504.4C818.7,504.4 819.2,511.4 819.8,511.4C820.5,511.4 821.3,500.5 822.0,495.0C823.0,503.8 824.0,520.5 825.0,521.3C826.9,522.8 828.8,523.4 830.7,523.4C832.6,523.4 834.4,512.5 836.3,507.9C837.2,505.6 838.2,505.7 839.1,501.5C839.6,499.4 840.0,487.3 840.5,473.3C840.8,464.3 841.1,442.4 841.4,427.0C841.8,437.7 842.3,451.4 842.7,459.1C843.4,471.6 844.1,480.2 844.8,487.4C846.0,499.4 847.1,512.6 848.3,515.7C849.0,517.5 849.7,519.2 850.4,519.2C851.4,519.2 852.3,516.4 853.3,510.0C853.5,508.5 853.8,499.2 854.0,493.8C854.3,498.3 854.7,502.7 855.0,507.2C855.4,495.2 855.7,483.2 856.1,471.2C856.7,485.1 857.2,498.9 857.8,512.8C858.4,486.7 859.0,460.6 859.6,434.5C860.1,457.8 860.5,481.1 861.0,504.4C861.3,499.9 861.7,495.5 862.0,491.0C862.4,494.5 862.8,501.5 863.2,501.5C863.7,501.5 864.1,500.1 864.6,500.1C865.5,500.1 866.5,506.3 867.4,510.0C868.2,513.3 869.1,521.3 869.9,521.3C871.2,521.3 872.5,515.6 873.8,505.8C874.3,502.3 874.7,485.6 875.2,475.5C875.7,485.6 876.1,495.7 876.6,505.8C877.1,486.7 877.5,467.7 878.0,448.6C878.3,464.8 878.7,481.1 879.0,497.3C879.6,478.7 880.2,460.2 880.8,441.6C881.3,452.2 881.7,465.4 882.2,473.3C882.8,484.1 883.5,490.2 884.1,498.7C884.8,494.3 885.5,489.8 886.2,485.4C886.8,490.8 887.3,496.6 887.9,501.5C888.5,506.7 889.1,511.0 889.7,515.7C890.7,508.9 891.8,502.1 892.8,495.3C893.3,499.0 893.7,502.8 894.2,506.5C894.5,494.3 894.9,482.0 895.2,469.8C895.6,475.7 896.0,481.2 896.4,487.4C896.6,491.0 896.9,494.9 897.1,498.7C897.3,480.8 897.4,454.7 897.6,445.0C898.0,421.7 898.4,401.3 898.8,401.3C899.0,401.3 899.3,404.0 899.5,404.0C899.8,404.0 900.2,367.1 900.5,348.6C901.1,380.7 901.8,429.9 902.4,445.0C903.0,458.5 903.5,471.9 904.1,471.9C904.8,471.9 905.6,466.3 906.3,466.3C907.0,466.3 907.7,499.3 908.4,501.5C909.1,503.7 909.8,505.1 910.5,505.1C911.2,505.1 911.9,498.0 912.6,494.5C914.0,487.3 915.5,486.0 916.9,473.3C917.4,469.2 917.8,455.4 918.3,445.0C919.0,430.2 919.6,411.6 920.3,394.9C920.8,411.6 921.3,433.7 921.8,445.0C922.3,455.5 922.7,464.3 923.2,469.0C924.1,478.3 925.1,479.8 926.0,487.4C926.8,493.9 927.6,512.8 928.4,512.8C930.7,512.8 932.9,503.6 935.2,483.2C935.7,479.0 936.1,456.6 936.6,443.3C937.1,465.5 937.6,510.0 938.1,510.0C938.6,510.0 939.0,507.2 939.5,507.2C940.1,507.2 940.6,515.7 941.2,515.7C941.8,515.7 942.4,512.9 943.0,512.9C943.7,512.9 944.4,516.6 945.1,518.5C946.1,521.1 947.0,526.3 948.0,526.3C949.2,526.3 950.3,523.7 951.5,521.3C952.0,520.4 952.4,517.2 952.9,517.2C953.4,517.2 953.8,521.2 954.3,522.0C956.0,525.0 957.6,527.2 959.3,527.2C962.6,527.2 965.8,527.2 969.1,527.2C971.0,527.2 972.9,524.8 974.8,524.8C976.2,524.8 977.6,525.0 979.0,525.3C980.4,525.6 981.9,527.2 983.3,527.2C985.6,527.2 988.0,527.1 990.3,527.0C992.2,526.9 994.1,524.1 996.0,522.0C996.8,521.1 997.7,518.6 998.5,518.6C999.1,518.6 999.6,523.4 1000.2,523.9C1002.6,526.2 1004.9,527.2 1007.3,527.2C1009.7,527.2 1012.0,523.9 1014.4,521.3C1015.2,520.4 1016.1,519.4 1016.9,517.8C1017.2,517.1 1017.6,515.0 1017.9,515.0C1018.4,515.0 1018.8,521.5 1019.3,522.0C1020.2,522.9 1021.2,523.4 1022.1,523.4C1022.8,523.4 1023.6,522.4 1024.3,522.4C1025.2,522.4 1026.2,527.2 1027.1,527.2C1028.0,527.2 1029.0,526.0 1029.9,524.8C1030.4,524.2 1030.8,521.4 1031.3,521.4C1031.8,521.4 1032.2,523.7 1032.7,524.1C1034.1,525.4 1035.6,526.0 1037.0,526.3C1039.8,526.8 1042.7,527.2 1045.5,527.2C1048.3,527.2 1051.1,527.1 1053.9,526.7C1054.9,526.6 1055.8,524.8 1056.8,524.8C1059.6,524.8 1062.4,527.2 1065.2,527.2C1068.5,527.2 1071.7,524.8 1075.0,524.8C1076.4,524.8 1077.8,527.0 1079.2,527.0C1081.6,527.0 1083.9,526.9 1086.3,526.7C1088.7,526.5 1091.0,523.9 1093.4,522.4C1094.3,521.8 1095.3,520.6 1096.2,520.6C1096.9,520.6 1097.6,525.5 1098.3,525.6C1100.0,525.8 1101.6,525.7 1103.3,525.8C1104.5,525.9 1105.6,527.0 1106.8,527.0C1109.2,527.0 1111.5,525.4 1113.9,521.3C1114.4,520.5 1114.8,514.4 1115.3,512.8C1115.8,511.2 1116.2,509.4 1116.7,509.4C1117.4,509.4 1118.1,520.7 1118.8,522.0C1120.7,525.4 1122.6,527.2 1124.5,527.2C1126.8,527.2 1129.2,521.0 1131.5,517.8C1132.9,515.9 1134.4,511.9 1135.8,511.9C1136.7,511.9 1137.7,519.8 1138.6,522.0C1139.5,524.2 1140.5,527.0 1141.4,527.0C1142.8,527.0 1144.3,527.0 1145.7,527.0C1146.6,527.0 1147.6,525.1 1148.5,523.9C1150.1,521.8 1151.8,519.2 1153.4,515.7C1154.0,514.3 1154.7,510.5 1155.3,510.5C1156.1,510.5 1156.9,520.8 1157.7,522.0C1159.8,525.2 1161.9,527.0 1164.0,527.0C1166.8,527.0 1169.7,523.6 1172.5,512.8C1173.0,511.0 1173.4,491.9 1173.9,487.4C1174.3,483.5 1174.7,482.1 1175.1,479.4C1175.5,482.1 1175.8,484.1 1176.2,487.4C1176.9,493.4 1177.5,508.7 1178.2,512.8C1178.9,517.1 1179.6,521.3 1180.3,521.3C1180.9,521.3 1181.5,520.6 1182.1,520.6C1182.7,520.6 1183.2,527.0 1183.8,527.0C1185.9,527.0 1188.1,517.4 1190.2,514.2C1191.5,512.3 1192.7,509.4 1194.0,509.4C1194.8,509.4 1195.7,517.6 1196.5,519.9C1197.5,522.6 1198.4,525.8 1199.4,525.8C1201.3,525.8 1203.1,525.6 1205.0,525.3C1205.9,525.1 1206.9,522.7 1207.8,522.7C1210.2,522.7 1212.5,522.7 1214.9,522.7C1215.4,522.7 1215.8,526.2 1216.3,526.3C1218.7,526.9 1221.0,527.0 1223.4,527.0C1225.8,527.0 1228.1,524.2 1230.5,524.2C1232.8,524.2 1235.2,527.0 1237.5,527.0C1239.9,527.0 1242.2,526.9 1244.6,526.7C1246.5,526.5 1248.3,525.0 1250.2,523.4C1250.8,522.9 1251.3,521.3 1251.9,521.3C1253.7,521.3 1255.5,524.9 1257.3,525.6C1259.2,526.3 1261.1,527.0 1263.0,527.0C1264.4,527.0 1265.8,524.4 1267.2,524.4C1268.1,524.4 1269.1,527.0 1270.0,527.0C1270.7,527.0 1271.4,520.1 1272.1,518.5C1272.7,517.2 1273.2,515.7 1273.8,515.7C1274.7,515.7 1275.5,524.9 1276.4,525.6C1277.6,526.6 1278.7,527.2 1279.9,527.2C1285.1,527.2 1290.3,526.3 1295.5,526.3C1298.3,526.3 1301.1,527.2 1303.9,527.2C1305.6,527.2 1307.2,524.2 1308.9,524.2C1310.5,524.2 1312.2,526.5 1313.8,526.7C1316.2,527.0 1318.5,527.2 1320.9,527.2C1322.3,527.2 1323.6,525.5 1325.0,524.1C1326.2,522.9 1327.3,518.5 1328.5,518.5C1329.1,518.5 1329.8,520.6 1330.4,520.6C1331.0,520.6 1331.5,516.5 1332.1,516.5C1332.7,516.5 1333.2,524.3 1333.8,524.8C1335.6,526.5 1337.3,527.2 1339.1,527.2C1341.5,527.2 1343.8,526.5 1346.2,525.6C1347.4,525.2 1348.5,523.2 1349.7,523.2C1350.9,523.2 1352.1,526.2 1353.3,526.3C1356.6,526.6 1359.9,526.7 1363.2,526.7C1363.7,526.7 1364.1,520.6 1364.6,520.6C1365.5,520.6 1366.5,522.0 1367.4,522.0C1368.2,522.0 1369.0,517.6 1369.8,517.6C1370.6,517.6 1371.5,524.2 1372.3,524.8C1374.4,526.4 1376.6,527.2 1378.7,527.2C1381.1,527.2 1383.4,526.9 1385.8,525.6C1386.2,525.4 1386.5,522.1 1386.9,522.1C1387.5,522.1 1388.0,525.6 1388.6,525.6C1389.3,525.6 1390.0,521.4 1390.7,521.4C1391.4,521.4 1392.1,525.0 1392.8,525.3C1395.2,526.5 1397.5,527.0 1399.9,527.0C1402.0,527.0 1404.2,523.4 1406.3,523.4C1407.0,523.4 1407.7,523.4 1408.4,523.4C1409.1,523.4 1409.8,521.0 1410.5,521.0C1411.2,521.0 1411.9,524.0 1412.6,524.4C1415.0,525.9 1417.3,526.7 1419.7,526.7C1422.5,526.7 1425.4,524.3 1428.2,522.0C1428.9,521.4 1429.6,519.6 1430.3,519.6C1431.0,519.6 1431.7,522.8 1432.4,523.4C1434.8,525.5 1437.1,527.0 1439.5,527.0C1441.5,527.0 1443.4,523.2 1445.4,523.2C1446.7,523.2 1448.1,526.6 1449.4,526.7C1452.7,526.9 1456.0,527.0 1459.3,527.0C1462.1,527.0 1464.9,524.2 1467.7,521.3C1468.3,520.7 1468.8,518.6 1469.4,518.6C1470.0,518.6 1470.7,522.1 1471.3,522.7C1473.9,525.3 1476.4,527.0 1479.0,527.0C1480.7,527.0 1482.3,524.9 1484.0,523.4C1484.7,522.8 1485.4,521.0 1486.1,521.0C1487.3,521.0 1488.4,521.8 1489.6,522.7C1490.6,523.4 1491.5,526.7 1492.5,526.7C1495.1,526.7 1497.6,526.7 1500.2,526.7C1501.6,526.7 1503.1,521.0 1504.5,518.5C1505.6,516.7 1506.6,513.4 1507.7,513.4C1508.3,513.4 1508.8,519.9 1509.4,521.3C1510.6,524.2 1511.8,526.6 1513.0,526.7C1514.9,526.9 1516.7,527.0 1518.6,527.0C1521.0,527.0 1523.3,518.4 1525.7,508.6C1526.4,505.7 1527.1,498.7 1527.8,493.8C1528.3,497.8 1528.7,502.6 1529.2,505.8C1530.1,512.2 1531.1,520.3 1532.0,521.3C1533.2,522.6 1534.4,522.4 1535.6,523.4C1536.5,524.2 1537.5,527.0 1538.4,527.0C1540.8,527.0 1543.1,522.5 1545.5,511.4C1546.0,509.2 1546.4,487.6 1546.9,487.4C1547.4,487.2 1547.8,487.1 1548.3,487.1C1548.8,487.1 1549.2,507.8 1549.7,511.4C1550.4,516.8 1551.1,519.9 1551.8,521.3C1553.5,524.6 1555.1,527.0 1556.8,527.0C1559.1,527.0 1561.5,514.6 1563.8,511.4C1564.8,510.1 1565.7,508.3 1566.7,508.3C1567.4,508.3 1568.1,519.5 1568.8,521.3C1570.0,524.3 1571.1,526.5 1572.3,526.7C1573.2,526.9 1574.1,527.0 1575.0,527.0C1576.4,527.0 1577.7,526.1 1579.1,524.8C1580.3,523.7 1581.5,514.3 1582.7,513.5C1583.4,513.0 1584.1,513.2 1584.8,512.6C1585.4,512.1 1586.0,504.0 1586.6,504.0C1587.3,504.0 1588.1,519.1 1588.8,521.3C1589.6,523.7 1590.4,525.8 1591.2,525.8C1591.8,525.8 1592.4,525.7 1593.0,525.6" fill="none" stroke="#f00" stroke-width="2.08" stroke-linejoin="round" stroke-linecap="square" clip-path="url(#c2)"/>
<line x1="728.0" y1="321.5" x2="728.0" y2="528.5" stroke="#000" stroke-width="2.08" stroke-dasharray="7.71 3.33"/>
<line x1="944.0" y1="321.5" x2="944.0" y2="528.5" stroke="#000" stroke-width="2.08" stroke-dasharray="7.71 3.33"/>
<rect x="79.5" y="321.5" width="1514.0" height="207.0" fill="none" stroke="#000" stroke-width="1.11"/>
<line x1="79.5" y1="528.5" x2="79.5" y2="533.36" stroke="#000" stroke-width="1.11"/>
<text x="78.6" y="551.6" font-size="19.44" text-anchor="middle">06/15</text>
<line x1="394.5" y1="528.5" x2="394.5" y2="533.36" stroke="#000" stroke-width="1.11"/>
<text x="393.6" y="551.6" font-size="19.44" text-anchor="middle">07/01</text>
<line x1="669.5" y1="528.5" x2="669.5" y2="533.36" stroke="#000" stroke-width="1.11"/>
<text x="668.6" y="551.6" font-size="19.44" text-anchor="middle">07/15</text>
<line x1="1003.5" y1="528.5" x2="1003.5" y2="533.36" stroke="#000" stroke-width="1.11"/>
<text x="1002.6" y="551.6" font-size="19.44" text-anchor="middle">08/01</text>
<line x1="1278.5" y1="528.5" x2="1278.5" y2="533.36" stroke="#000" stroke-width="1.11"/>
<text x="1277.6" y="551.6" font-size="19.44" text-anchor="middle">08/15</text>
<line x1="74.64" y1="528.5" x2="79.5" y2="528.5" stroke="#000" stroke-width="1.11"/>
<text x="69.34" y="535.0" font-size="19.44" text-anchor="end">0</text>
<line x1="74.64" y1="448.5" x2="79.5" y2="448.5" stroke="#000" stroke-width="1.11"/>
<text x="69.34" y="455.4" font-size="19.44" text-anchor="end">5</text>
<line x1="74.64" y1="368.5" x2="79.5" y2="368.5" stroke="#000" stroke-width="1.11"/>
<text x="69.34" y="375.8" font-size="19.44" text-anchor="end">10</text>
<text x="835.6" y="312.0" font-size="25" letter-spacing="0.075" text-anchor="middle">Isoprene concentrations</text>
<text transform="translate(33.2,425.0) rotate(-90)" font-size="22.22" text-anchor="middle">ppb vol</text>
<text x="774.6" y="342.7" font-size="16.67" letter-spacing="0.1">Heat wave</text>
<text x="18.3" y="312.9" font-size="19.44">(b)</text>
<text x="836.0" y="579.9" font-size="22.22" text-anchor="middle">Time</text>
<rect x="1600.5" y="40.5" width="152" height="45.9" rx="2.8" ry="2.8" fill="#fff" fill-opacity="0.8" stroke="#d2d2d2" stroke-width="1.1"/>
<line x1="1604.0" y1="52" x2="1634.1" y2="52" stroke="#000" stroke-width="2.08"/>
<line x1="1604.0" y1="73.2" x2="1634.1" y2="73.2" stroke="#f00" stroke-width="2.08"/>
<text x="1644.1" y="56.7" font-size="13.89" letter-spacing="-0.1">Measurements</text>
<text x="1644.1" y="77.9" font-size="13.89" letter-spacing="-0.25">Model</text>
</svg></body></html>
